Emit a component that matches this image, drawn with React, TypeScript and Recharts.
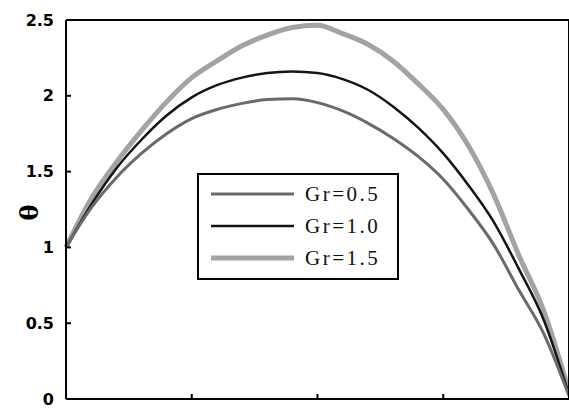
import { LineChart, Line, XAxis, YAxis, Legend, Label, Text } from "recharts";

// dimensionless position across the channel
const etaValues = [
  0, 0.05, 0.1, 0.15, 0.2, 0.25, 0.3, 0.35, 0.4, 0.45, 0.5,
  0.55, 0.6, 0.65, 0.7, 0.75, 0.8, 0.85, 0.9, 0.95, 1,
];

// temperature profiles
const thetaGr05 = [
  1.0, 1.26, 1.46, 1.62, 1.75, 1.85, 1.91, 1.95, 1.975, 1.98, 1.955,
  1.9, 1.82, 1.72, 1.6, 1.45, 1.25, 1.02, 0.72, 0.43, 0.02,
];
const thetaGr10 = [
  1.0, 1.28, 1.52, 1.71, 1.87, 1.99, 2.07, 2.12, 2.15, 2.16, 2.15,
  2.11, 2.04, 1.93, 1.79, 1.62, 1.41, 1.17, 0.86, 0.52, 0.03,
];
const thetaGr15 = [
  1.0, 1.32, 1.56, 1.77, 1.96, 2.12, 2.23, 2.33, 2.4, 2.45, 2.465,
  2.41, 2.34, 2.23, 2.08, 1.91, 1.67, 1.35, 0.95, 0.58, 0.05,
];

const seriesNames = ["Gr=0.5", "Gr=1.0", "Gr=1.5"];
const seriesColors = ["#6a6a6a", "#141414", "#a3a3a3"];
const seriesWidths = [3, 2.5, 5];

const xTicks = [0, 0.25, 0.5, 0.75, 1];
const yTicks = [0, 0.5, 1, 1.5, 2, 2.5];

const data = etaValues.map((eta, i) => ({
  eta,
  g05: thetaGr05[i],
  g10: thetaGr10[i],
  g15: thetaGr15[i],
}));

const TICK_LEN = 5;

const LeftTick = ({ x, y, payload }: any) => (
  <g>
    <line x1={x} y1={y} x2={x + TICK_LEN} y2={y} stroke="#000" strokeWidth={2} />
    <text
      x={x - 12}
      y={y}
      textAnchor="end"
      dominantBaseline="central"
      fontFamily="'DejaVu Sans', sans-serif"
      fontWeight="bold"
      fontSize={16}
      fill="#000"
    >
      {String(payload.value)}
    </text>
  </g>
);

const RightTick = ({ x, y, payload }: any) =>
  payload.value === 0 || payload.value === 2.5 ? <g /> : (
    <line x1={x} y1={y} x2={x - TICK_LEN} y2={y} stroke="#000" strokeWidth={2} />
  );

const BottomTick = ({ x, y, payload }: any) =>
  payload.value === 0 || payload.value === 1 ? <g /> : (
    <line x1={x} y1={y} x2={x} y2={y - TICK_LEN} stroke="#000" strokeWidth={2} />
  );

const TopTick = ({ x, y, payload }: any) =>
  payload.value === 0 || payload.value === 1 ? <g /> : (
    <line x1={x} y1={y} x2={x} y2={y + TICK_LEN} stroke="#000" strokeWidth={2} />
  );

const renderLegend = (props: any) => {
  const { payload = [] } = props;
  return (
    <div
      style={{
        width: 202,
        height: 107,
        boxSizing: "border-box",
        border: "2px solid #000",
        background: "#fff",
        padding: "3px 0 0 12px",
      }}
    >
      {payload.map((entry: any) => {
        const idx = seriesNames.indexOf(entry.value);
        return (
          <div key={entry.value} style={{ display: "flex", alignItems: "center", height: 32 }}>
            <svg width={83} height={8} style={{ display: "block" }}>
              <line
                x1={0}
                y1={4}
                x2={83}
                y2={4}
                stroke={seriesColors[idx]}
                strokeWidth={seriesWidths[idx]}
              />
            </svg>
            <span
              style={{
                marginLeft: 11,
                fontFamily: "'Liberation Serif', 'Times New Roman', serif",
                fontSize: 21,
                letterSpacing: 2.5,
                color: "#111",
                lineHeight: "21px",
              }}
            >
              {entry.value}
            </span>
          </div>
        );
      })}
    </div>
  );
};

export default function App() {
  return (
    <div
      style={{
        position: "absolute",
        left: 0,
        top: 0,
        width: 569,
        height: 409,
        overflow: "hidden",
        background: "#fff",
      }}
    >
      <LineChart
        width={575}
        height={440}
        data={data}
        margin={{ top: 19, right: 5, bottom: 40, left: 65 }}
      >
        <XAxis
          dataKey="eta"
          type="number"
          domain={[0, 1]}
          ticks={xTicks}
          height={1}
          tickSize={0}
          tickMargin={0}
          tick={<BottomTick />}
          tickLine={false}
          axisLine={{ stroke: "#000", strokeWidth: 2 }}
        >
          <Label
            content={(p: any) => {
              const vb = p.viewBox || {};
              return (
                <text
                  x={vb.x + vb.width / 2 + 40}
                  y={vb.y + 22}
                  textAnchor="middle"
                  fontFamily="'DejaVu Serif', serif"
                  fontWeight="bold"
                  fontSize={20}
                  fill="#000"
                >
                  z
                </text>
              );
            }}
          />
        </XAxis>
        <XAxis
          xAxisId="top"
          orientation="top"
          type="number"
          domain={[0, 1]}
          ticks={xTicks}
          height={1}
          tickSize={0}
          tickMargin={0}
          tick={<TopTick />}
          tickLine={false}
          axisLine={{ stroke: "#000", strokeWidth: 2 }}
        />
        <YAxis
          type="number"
          domain={[0, 2.5]}
          ticks={yTicks}
          width={1}
          tickSize={0}
          tickMargin={0}
          tick={<LeftTick />}
          tickLine={false}
          axisLine={{ stroke: "#000", strokeWidth: 2 }}
        >
          <Label
            content={(p: any) => {
              const vb = p.viewBox || {};
              return (
                <Text
                  x={vb.x + vb.width - 37}
                  y={vb.y + vb.height / 2 + 3}
                  angle={-90}
                  textAnchor="middle"
                  verticalAnchor="middle"
                  fontFamily="'DejaVu Serif', serif"
                  fontWeight="bold"
                  fontSize={24}
                  fill="#000"
                >
                  θ
                </Text>
              );
            }}
          />
        </YAxis>
        <YAxis
          yAxisId="right"
          orientation="right"
          type="number"
          domain={[0, 2.5]}
          ticks={yTicks}
          width={1}
          tickSize={0}
          tickMargin={0}
          tick={<RightTick />}
          tickLine={false}
          axisLine={{ stroke: "#000", strokeWidth: 2 }}
        />
        <Legend
          layout="vertical"
          align="center"
          verticalAlign="middle"
          content={renderLegend}
          wrapperStyle={{ left: 197, top: 173, width: 202, height: 107 }}
        />
        <Line
          type="monotone"
          dataKey="g15"
          name={seriesNames[2]}
          stroke={seriesColors[2]}
          strokeWidth={seriesWidths[2]}
          dot={false}
          isAnimationActive={false}
        />
        <Line
          type="monotone"
          dataKey="g10"
          name={seriesNames[1]}
          stroke={seriesColors[1]}
          strokeWidth={seriesWidths[1]}
          dot={false}
          isAnimationActive={false}
        />
        <Line
          type="monotone"
          dataKey="g05"
          name={seriesNames[0]}
          stroke={seriesColors[0]}
          strokeWidth={seriesWidths[0]}
          dot={false}
          isAnimationActive={false}
        />
      </LineChart>
    </div>
  );
}
